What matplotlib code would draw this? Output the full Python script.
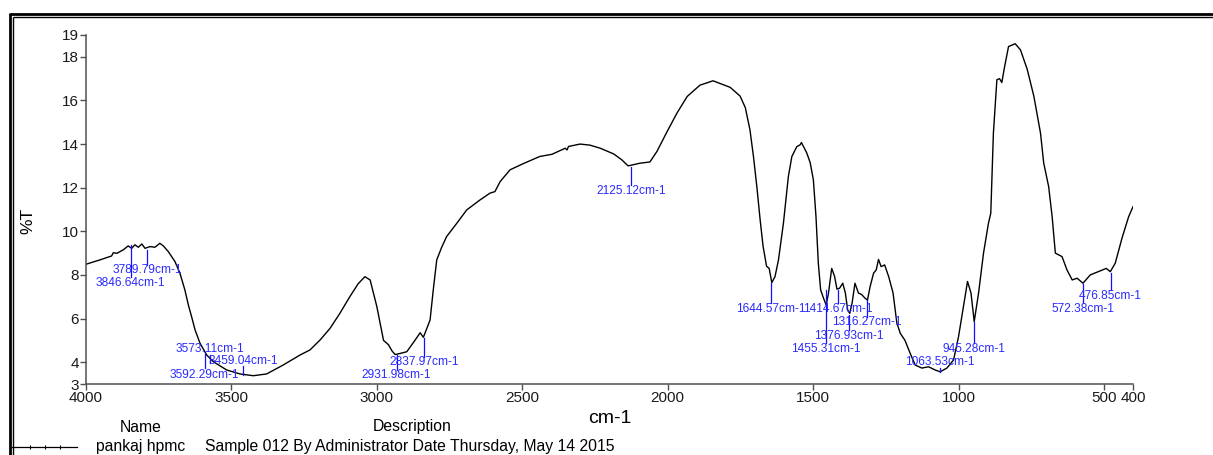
import matplotlib
matplotlib.use("Agg")
import matplotlib.pyplot as plt
from matplotlib.lines import Line2D

plt.rcParams['font.family'] = ['Liberation Sans', 'DejaVu Sans']

W, H = 1213, 455
DPI = 100

# FTIR spectrum (wavenumber in cm-1, %T)
wavenumber = [4000, 3952, 3912, 3906, 3894, 3872, 3855, 3843, 3832, 3820, 3808, 3797,
              3780, 3763, 3746, 3734, 3717, 3694, 3677, 3660, 3648, 3637, 3625, 3608,
              3585, 3562, 3516, 3470, 3425, 3379, 3322, 3264, 3230, 3195, 3161, 3127,
              3093, 3064, 3041,
              3023, 3000, 2983, 2977, 2960, 2947, 2937, 2920, 2897, 2869, 2851, 2840,
              2817, 2806, 2794, 2777, 2760, 2725, 2691, 2645, 2611, 2594, 2576, 2542,
              2497, 2440, 2398, 2352, 2346, 2341, 2301, 2267, 2232, 2186, 2158, 2136,
              2096, 2061, 2037, 2002, 1968, 1933, 1889, 1844, 1785, 1751, 1733, 1717,
              1705, 1693, 1682, 1672, 1660, 1651, 1642, 1631, 1619, 1602, 1585, 1573,
              1556, 1545, 1540, 1522, 1510, 1499, 1490, 1482, 1474, 1464, 1455, 1447,
              1436, 1426, 1418, 1409, 1398, 1389, 1381, 1374, 1366, 1356, 1344, 1333,
              1321, 1313, 1304, 1292, 1283, 1275, 1266, 1254, 1240, 1225, 1212, 1200,
              1184, 1166, 1149, 1126, 1103, 1080, 1063, 1040, 1017, 1000, 983, 969,
              957, 946, 931, 914, 897, 889, 880, 868, 859, 851, 843, 828, 805, 787,
              764, 741, 718, 707, 690, 678, 667, 644, 627, 609, 592, 572, 547, 519,
              492, 478, 461, 438, 415, 400]
transmittance = [8.49, 8.69, 8.87, 9.02, 8.99, 9.15, 9.33, 9.22, 9.38, 9.27, 9.42, 9.22,
                 9.30, 9.27, 9.45, 9.33, 9.07, 8.61, 8.08, 7.31, 6.62, 6.09, 5.48, 4.87,
                 4.33, 4.02, 3.64, 3.46, 3.38, 3.46, 3.87, 4.33, 4.56, 5.02, 5.55, 6.24,
                 7.00, 7.60, 7.92,
                 7.77, 6.55, 5.40, 5.00, 4.80, 4.50, 4.35, 4.40, 4.48, 5.00, 5.35, 5.14,
                 5.93, 7.31, 8.69, 9.27, 9.76, 10.37, 10.98, 11.44, 11.75, 11.82, 12.28, 12.82,
                 13.10, 13.43, 13.53, 13.81, 13.73, 13.89, 14.00, 13.95, 13.81, 13.55, 13.28, 13.00,
                 13.12, 13.18, 13.66, 14.57, 15.42, 16.18, 16.70, 16.90, 16.60, 16.20, 15.67, 14.65,
                 13.43, 12.00, 10.52, 9.32, 8.40, 8.30, 7.65, 7.92, 8.69, 10.37, 12.51, 13.43,
                 13.88, 13.96, 14.07, 13.60, 13.15, 12.36, 10.67, 8.54, 7.31, 6.93, 6.62, 7.17,
                 8.30, 7.93, 7.35, 7.39, 7.62, 7.17, 6.39, 6.24, 6.70, 7.62, 7.17, 7.10,
                 6.93, 6.85, 7.46, 8.08, 8.23, 8.71, 8.38, 8.46, 7.92, 7.17, 5.80, 5.32,
                 5.00, 4.40, 3.87, 3.73, 3.79, 3.64, 3.56, 3.73, 4.10, 5.16, 6.55, 7.70,
                 7.17, 5.86, 7.17, 9.00, 10.37, 10.83, 14.50, 16.95, 17.00, 16.82, 17.44, 18.47,
                 18.60, 18.32, 17.44, 16.20, 14.50, 13.13, 12.05, 10.67, 9.00, 8.84, 8.23, 7.77,
                 7.85, 7.62, 8.00, 8.15, 8.30, 8.15, 8.54, 9.68, 10.67, 11.13]

# Peak picks: position, marker top, marker bottom, label height
peak_wn = [3846.64, 3789.79, 3592.29, 3573.11, 3459.04, 2931.98, 2837.97, 2125.12,
           1644.57, 1414.67, 1455.31, 1376.93, 1316.27, 1063.53, 945.28, 572.38, 476.85]
peak_top = [9.38, 9.15, 4.42, 4.35, 3.83, 4.33, 5.11, 12.95,
            7.63, 7.31, 7.31, 6.17, 6.85, 3.73, 5.84, 7.59, 8.09]
peak_bottom = [7.91, 8.46, 3.73, 3.95, 3.41, 3.64, 4.24, 12.13,
               6.72, 6.72, 4.88, 5.48, 6.07, 3.55, 4.88, 6.72, 7.31]
peak_label_y = [7.63, 8.23, 3.41, 4.61, 4.05, 3.41, 4.01, 11.85,
                6.44, 6.44, 4.61, 5.20, 5.84, 4.01, 4.61, 6.44, 7.04]

x_ticks = [4000, 3500, 3000, 2500, 2000, 1500, 1000, 500, 400]
y_ticks = [3, 4, 6, 8, 10, 12, 14, 16, 18, 19]

legend_name = "pankaj hpmc"
legend_desc = "Sample 012 By Administrator Date Thursday, May 14 2015"

fig = plt.figure(figsize=(W / DPI, H / DPI), dpi=DPI)


def fx(px):
    return px / W


def fy(py):
    return 1 - py / H


ax = fig.add_axes([fx(86), fy(384), fx(1133) - fx(86), fy(35) - fy(384)])
ax.plot(wavenumber, transmittance, color='black', lw=1.0)

for w, t, b, ly in zip(peak_wn, peak_top, peak_bottom, peak_label_y):
    ax.plot([w, w], [t, b], color='#1010ff', lw=0.9)
    ax.text(w, ly, f"{w:.2f}cm-1", color='#2a2aff', fontsize=8.6,
            ha='center', va='center')

ax.set_xlim(4000, 400)
ax.set_ylim(3, 19)
ax.set_xticks(x_ticks)
ax.set_xticklabels([str(v) for v in x_ticks])
ax.set_yticks(y_ticks)
ax.set_yticklabels([str(v) for v in y_ticks])
for s in ('top', 'right'):
    ax.spines[s].set_visible(False)
for s in ('left', 'bottom'):
    ax.spines[s].set_color('#505050')
    ax.spines[s].set_linewidth(1.1)
ax.tick_params(direction='out', length=4, width=1, color='#505050',
               labelsize=11, labelcolor='#1a1a1a', pad=1)
ax.set_xlabel('cm-1', fontsize=14, labelpad=0)
ax.xaxis.set_label_coords(0.5, -0.075)
fig.text(fx(28), fy(221), '%T', rotation=90, fontsize=12.5, ha='center', va='center')

# Legend block under the plot
fig.text(fx(141), fy(427), 'Name', fontsize=11.3, ha='center', va='center')
fig.text(fx(373), fy(427), 'Description', fontsize=11.3, ha='left', va='center')
fig.text(fx(96), fy(447), legend_name, fontsize=11.3, ha='left', va='center')
fig.text(fx(205), fy(447), legend_desc, fontsize=11.3, ha='left', va='center')
fig.add_artist(Line2D([fx(12), fx(77)], [fy(447), fy(447)], color='black', lw=0.9,
                      transform=fig.transFigure))
fig.add_artist(Line2D([fx(30), fx(45), fx(60)], [fy(447)] * 3, color='black', lw=0,
                      marker='|', markersize=2.5, markeredgewidth=0.8,
                      transform=fig.transFigure))

# Double frame around the page
fig.add_artist(Line2D([fx(9.7), fx(W)], [fy(14), fy(14)], color='black', lw=2.0,
                      transform=fig.transFigure, solid_capstyle='butt'))
fig.add_artist(Line2D([fx(9.7), fx(9.7)], [fy(13), fy(H)], color='black', lw=2.0,
                      transform=fig.transFigure, solid_capstyle='butt'))
fig.add_artist(Line2D([fx(13.3), fx(W)], [fy(17.2), fy(17.2)], color='black', lw=1.0,
                      transform=fig.transFigure, solid_capstyle='butt'))
fig.add_artist(Line2D([fx(13.3), fx(13.3)], [fy(16.7), fy(H)], color='black', lw=1.0,
                      transform=fig.transFigure, solid_capstyle='butt'))

fig.savefig('out.png', dpi=DPI)
